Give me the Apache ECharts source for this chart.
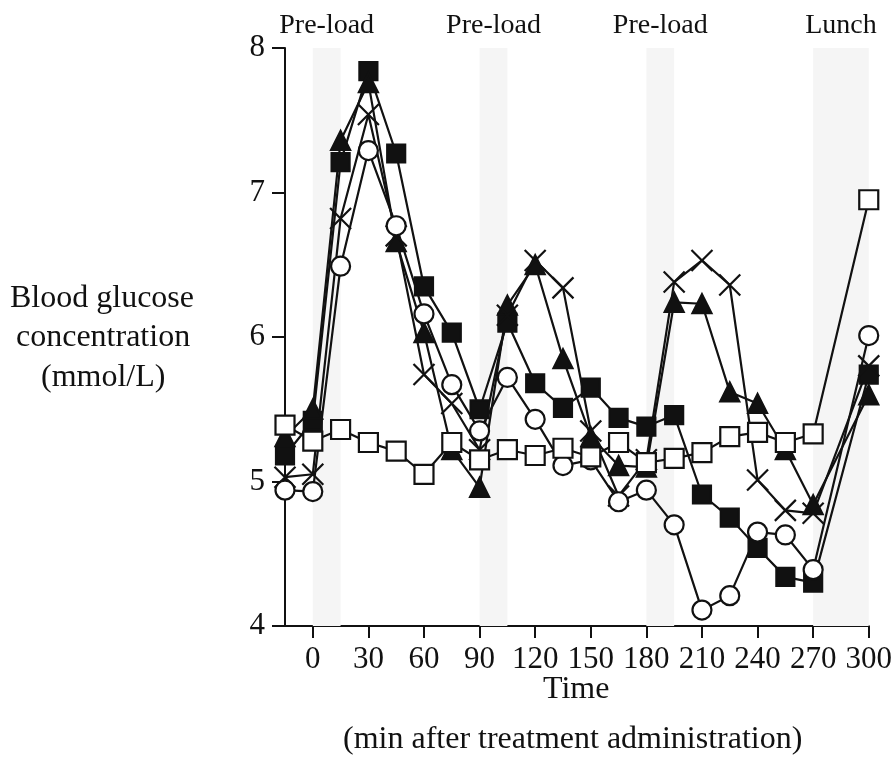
<!DOCTYPE html>
<html><head><meta charset="utf-8">
<script src="https://cdn.jsdelivr.net/npm/echarts@6/dist/echarts.min.js"></script>
<style>html,body{margin:0;padding:0;background:#fff}#c{width:895px;height:777px}</style>
</head><body><div id="c"></div>
<script>
const times = [-15, 0, 15, 30, 45, 60, 75, 90, 105, 120, 135, 150, 165, 180, 195, 210, 225, 240, 255, 270, 300];
const xTicks = [0, 30, 60, 90, 120, 150, 180, 210, 240, 270, 300];
const yTicks = [4, 5, 6, 7, 8];
const openSquare   = [5.39, 5.28, 5.36, 5.27, 5.21, 5.05, 5.27, 5.15, 5.22, 5.18, 5.23, 5.17, 5.27, 5.13, 5.16, 5.20, 5.31, 5.34, 5.27, 5.33, 6.95];
const filledSquare = [5.18, 5.42, 7.21, 7.84, 7.27, 6.35, 6.03, 5.50, 6.10, 5.68, 5.51, 5.65, 5.44, 5.38, 5.46, 4.91, 4.75, 4.54, 4.34, 4.30, 5.74];
const triangle     = [5.31, 5.50, 7.36, 7.76, 6.66, 6.03, 5.22, 4.96, 6.22, 6.50, 5.85, 5.31, 5.11, 5.10, 6.24, 6.23, 5.62, 5.54, 5.22, 4.84, 5.60];
const cross        = [5.03, 5.05, 6.82, 7.54, 6.70, 5.74, 5.54, 5.22, 6.15, 6.53, 6.34, 5.35, 4.90, 5.15, 6.38, 6.53, 6.36, 5.01, 4.80, 4.78, 5.80];
const openCircle   = [4.94, 4.93, 6.49, 7.29, 6.77, 6.16, 5.67, 5.35, 5.72, 5.43, 5.11, 5.15, 4.86, 4.94, 4.70, 4.11, 4.21, 4.65, 4.63, 4.39, 6.01];
const bands = [[0, 15, 'Pre-load'], [90, 105, 'Pre-load'], [180, 195, 'Pre-load'], [270, 300, 'Lunch']];

const FONT = 'Liberation Serif';
const pair = arr => times.map((t, i) => [t, arr[i]]);
const crossPath = 'path://M0,0 L10,10 M10,0 L0,10';

function mk(name, data, symbol, size, fill, extra) {
  return Object.assign({
    name, type: 'line', data: pair(data), symbol, symbolSize: size,
    lineStyle: { color: '#111', width: 2.2 },
    itemStyle: { color: fill, borderColor: '#111', borderWidth: 2.2 },
    emphasis: { disabled: true }, animation: false
  }, extra || {});
}

const chart = echarts.init(document.getElementById('c'));
chart.setOption({
  animation: false,
  grid: { left: 285, right: 23, top: 48, bottom: 151 },
  xAxis: {
    type: 'value', min: -15, max: 300,
    splitLine: { show: false },
    axisLine: { onZero: false, lineStyle: { color: '#111', width: 2 } },
    axisTick: { length: 12, lineStyle: { color: '#111', width: 2 }, customValues: xTicks },
    axisLabel: { customValues: xTicks, color: '#111', fontFamily: FONT, fontSize: 31, margin: 18 }
  },
  yAxis: {
    type: 'value', min: 4, max: 8, interval: 1,
    splitLine: { show: false },
    axisLine: { show: true, onZero: false, lineStyle: { color: '#111', width: 2 } },
    axisTick: { show: true, length: 13, lineStyle: { color: '#111', width: 2 } },
    axisLabel: { color: '#111', fontFamily: FONT, fontSize: 31, margin: 20,
      formatter: v => yTicks.includes(v) ? String(v) : '' }
  },
  series: [
    mk('bands', [], 'none', 0, '#000', {
      data: [],
      markArea: {
        silent: true,
        itemStyle: { color: '#f5f5f5' },
        label: { show: true, position: 'top', distance: 8, color: '#111', fontFamily: FONT, fontSize: 28 },
        data: bands.map(b => [{ xAxis: b[0], name: b[2] }, { xAxis: b[1] }])
      }
    }),
    mk('filledSquare', filledSquare, 'rect', 18, '#111'),
    mk('triangle', triangle, 'triangle', 19, '#111'),
    mk('cross', cross, crossPath, 21, 'none'),
    mk('openCircle', openCircle, 'circle', 19, '#fff'),
    mk('openSquare', openSquare, 'rect', 19, '#fff')
  ],
  graphic: [
    { type: 'line', shape: { x1: 272, y1: 626, x2: 286, y2: 626 }, style: { stroke: '#111', lineWidth: 2 } },
    { type: 'text', left: 10, top: 283, style: { text: 'Blood glucose', font: '32px "Liberation Serif"', fill: '#111' } },
    { type: 'text', left: 16, top: 322, style: { text: 'concentration', font: '32px "Liberation Serif"', fill: '#111' } },
    { type: 'text', left: 41, top: 362, style: { text: '(mmol/L)', font: '32px "Liberation Serif"', fill: '#111' } },
    { type: 'text', left: 543, top: 674, style: { text: 'Time', font: '32px "Liberation Serif"', fill: '#111' } },
    { type: 'text', left: 343, top: 724, style: { text: '(min after treatment administration)', font: '32px "Liberation Serif"', fill: '#111' } }
  ]
});
</script></body></html>
